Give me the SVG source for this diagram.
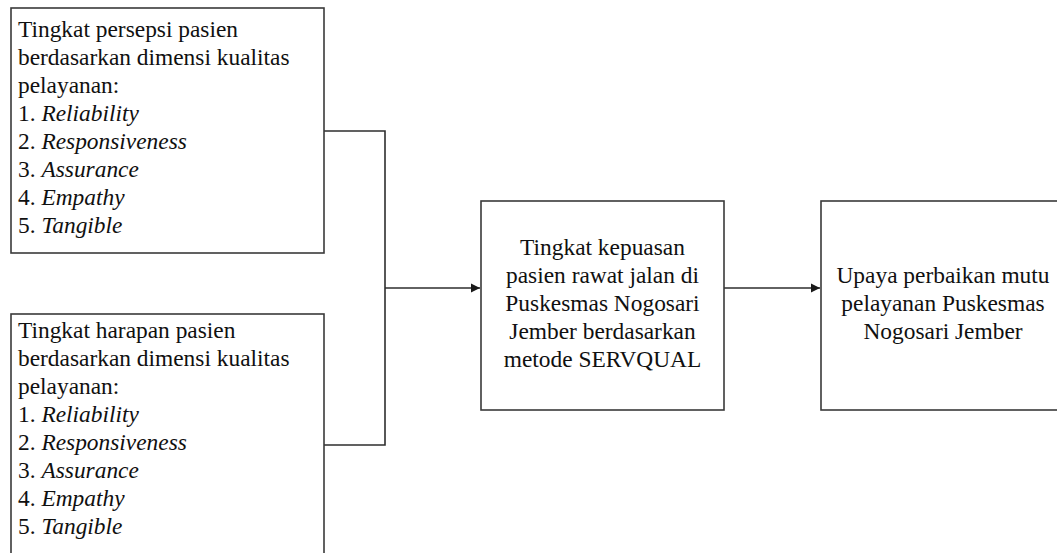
<svg xmlns="http://www.w3.org/2000/svg" width="1057" height="553" viewBox="0 0 1057 553">
<style>
.box{fill:#fff;stroke:#3a3a3a;stroke-width:1.6}
.t{font-family:"Liberation Serif","Times New Roman",serif;font-size:23.4px;fill:#101010}
.c{text-anchor:middle}
.i{font-style:italic}
.ln{fill:none;stroke:#2e2e2e;stroke-width:1.6}
</style>
<defs>
<marker id="ah" markerWidth="10" markerHeight="10" refX="9" refY="5" orient="auto" markerUnits="userSpaceOnUse">
<path d="M0,0.5 L9,5 L0,9.5 Z" fill="#1a1a1a"/>
</marker>
</defs>
<rect width="1057" height="553" fill="#fff"/>
<g id="connectors">
<polyline class="ln" points="324,131 385,131 385,445 324,445"/>
<line class="ln" x1="385" y1="288" x2="480" y2="288" marker-end="url(#ah)"/>
<line class="ln" x1="724" y1="288" x2="820" y2="288" marker-end="url(#ah)"/>
</g>
<g id="node-persepsi">
<rect class="box" x="11" y="8" width="313" height="245"/>
<text class="t" x="18" y="37">Tingkat persepsi pasien</text>
<text class="t" x="18" y="65">berdasarkan dimensi kualitas</text>
<text class="t" x="18" y="93">pelayanan:</text>
<text class="t" x="18" y="121">1. <tspan class="i">Reliability</tspan></text>
<text class="t" x="18" y="149">2. <tspan class="i">Responsiveness</tspan></text>
<text class="t" x="18" y="177">3. <tspan class="i">Assurance</tspan></text>
<text class="t" x="18" y="205">4. <tspan class="i">Empathy</tspan></text>
<text class="t" x="18" y="233">5. <tspan class="i">Tangible</tspan></text>
</g>
<g id="node-harapan">
<rect class="box" x="11" y="314" width="313" height="260"/>
<text class="t" x="18" y="338">Tingkat harapan pasien</text>
<text class="t" x="18" y="366">berdasarkan dimensi kualitas</text>
<text class="t" x="18" y="394">pelayanan:</text>
<text class="t" x="18" y="422">1. <tspan class="i">Reliability</tspan></text>
<text class="t" x="18" y="450">2. <tspan class="i">Responsiveness</tspan></text>
<text class="t" x="18" y="478">3. <tspan class="i">Assurance</tspan></text>
<text class="t" x="18" y="506">4. <tspan class="i">Empathy</tspan></text>
<text class="t" x="18" y="534">5. <tspan class="i">Tangible</tspan></text>
</g>
<g id="node-kepuasan">
<rect class="box" x="481" y="201" width="243" height="209"/>
<text class="t c" x="602.5" y="255">Tingkat kepuasan</text>
<text class="t c" x="602.5" y="283">pasien rawat jalan di</text>
<text class="t c" x="602.5" y="311">Puskesmas Nogosari</text>
<text class="t c" x="602.5" y="339">Jember berdasarkan</text>
<text class="t c" x="602.5" y="367">metode SERVQUAL</text>
</g>
<g id="node-upaya">
<rect class="box" x="821" y="201" width="245" height="209"/>
<text class="t c" x="943" y="283">Upaya perbaikan mutu</text>
<text class="t c" x="943" y="311">pelayanan Puskesmas</text>
<text class="t c" x="943" y="339">Nogosari Jember</text>
</g>
</svg>
